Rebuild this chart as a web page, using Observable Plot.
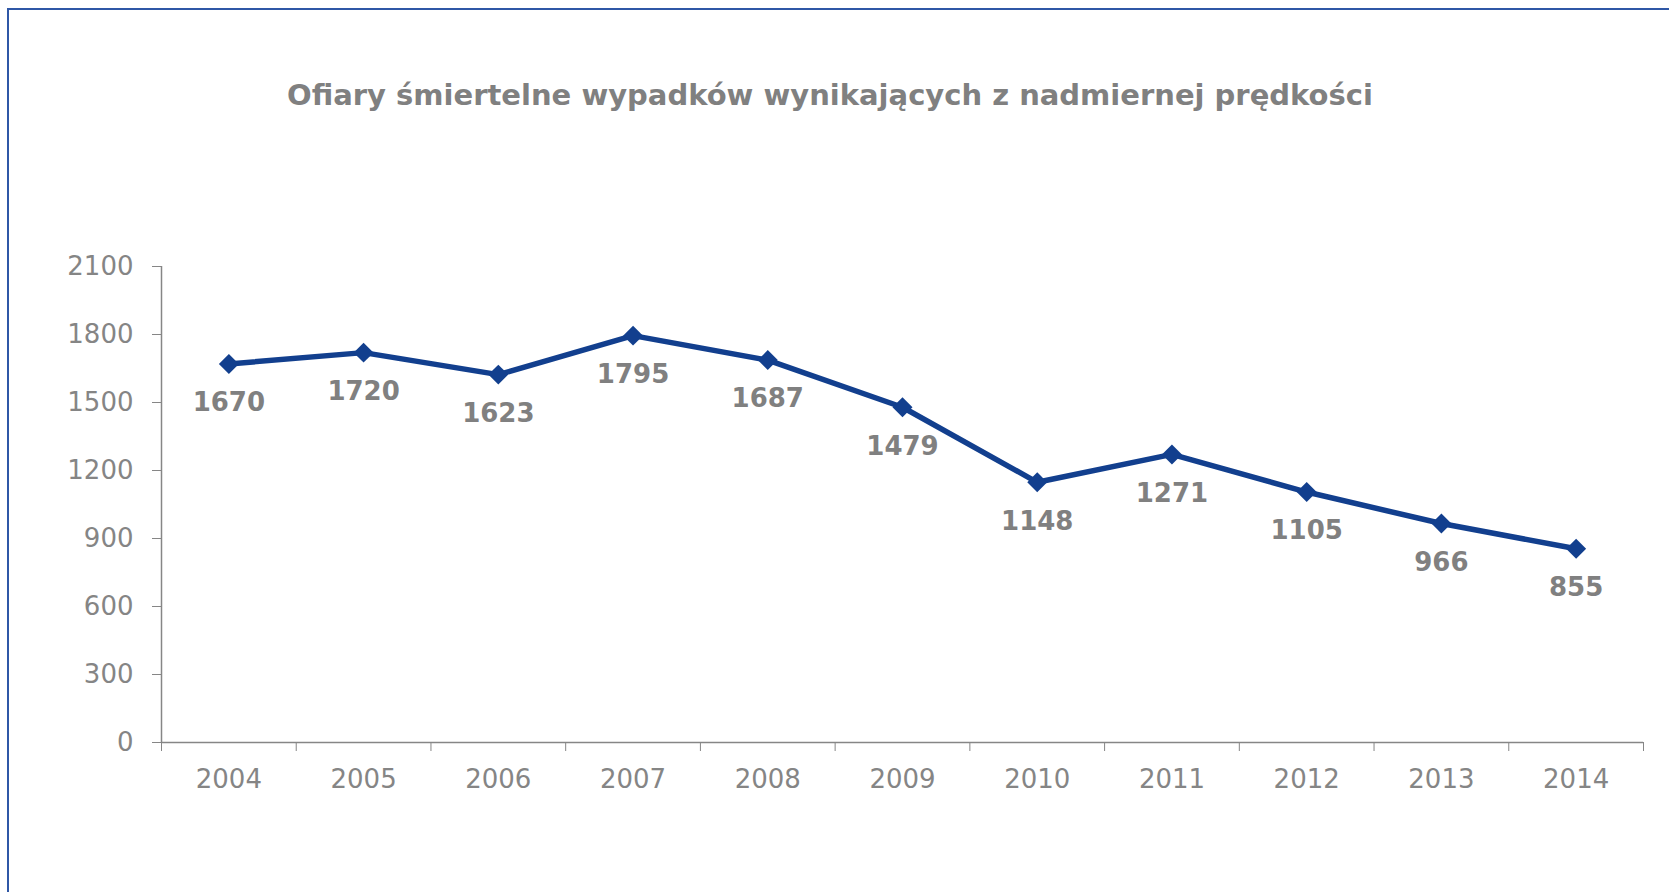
<!DOCTYPE html>
<html>
<head>
<meta charset="utf-8">
<script src="https://cdn.jsdelivr.net/npm/d3@7"></script>
<script src="https://cdn.jsdelivr.net/npm/@observablehq/plot@0.6"></script>
<style>
  html, body { margin: 0; padding: 0; background: #fff; overflow: hidden; }
  #wrap { position: relative; width: 1669px; height: 892px; overflow: hidden; }
  #frame { position: absolute; left: 7px; top: 8px; width: 2000px; height: 2000px;
           border-top: 2px solid #2f57a6; border-left: 2px solid #2f57a6; box-sizing: border-box; }
  #title { position: absolute; left: 0; width: 1660px; top: 76px; text-align: center;
           font-family: "DejaVu Sans", Verdana, sans-serif; font-weight: bold; font-size: 29px;
           color: #808080; line-height: 38px; }
  #chart { position: absolute; left: 0; top: 200px; }
</style>
</head>
<body>
<div id="wrap">
  <div id="frame"></div>
  <div id="title">Ofiary śmiertelne wypadków wynikających z nadmiernej prędkości</div>
  <div id="chart"></div>
</div>
<script>
const years = [2004, 2005, 2006, 2007, 2008, 2009, 2010, 2011, 2012, 2013, 2014];
const deaths = [1670, 1720, 1623, 1795, 1687, 1479, 1148, 1271, 1105, 966, 855];
const yTicks = [0, 300, 600, 900, 1200, 1500, 1800, 2100];

const data = years.map((y, i) => ({year: y, value: deaths[i]}));
const boundaries = d3.range(years.length + 1).map(i => years[0] - 0.5 + i);

const gray = "#868686";
const blue = "#123f8e";

const plot = Plot.plot({
  width: 1669,
  height: 692,
  marginLeft: 161,
  marginRight: 26,
  marginTop: 66,
  marginBottom: 150,
  style: {fontFamily: "'DejaVu Sans', Verdana, sans-serif", fontSize: "26px", color: "#808080", background: "transparent"},
  x: {domain: [years[0] - 0.5, years[years.length - 1] + 0.5]},
  y: {domain: [0, 2100]},
  marks: [
    Plot.axisY({ticks: yTicks, tickSize: 9, tickPadding: 19, tickFormat: d => String(d), stroke: gray, fill: "#858585", label: null}),
    Plot.axisX({ticks: boundaries, tickSize: 9, tickFormat: () => "", stroke: gray, label: null}),
    Plot.axisX({ticks: years, tickSize: 0, tickPadding: 27, tickFormat: d => String(d), fill: "#858585", label: null}),
    Plot.ruleY([0], {stroke: gray, strokeWidth: 1.5}),
    Plot.ruleX([boundaries[0]], {stroke: gray, strokeWidth: 1.5}),
    Plot.line(data, {x: "year", y: "value", stroke: blue, strokeWidth: 5.5}),
    Plot.dot(data, {x: "year", y: "value", symbol: "diamond2", r: 9, fill: blue, stroke: "none"}),
    Plot.text(data, {x: "year", y: "value", text: d => String(d.value), dy: 39, fill: "#808080",
                     fontWeight: "bold", fontSize: 26})
  ]
});
document.getElementById("chart").appendChild(plot);
</script>
</body>
</html>
